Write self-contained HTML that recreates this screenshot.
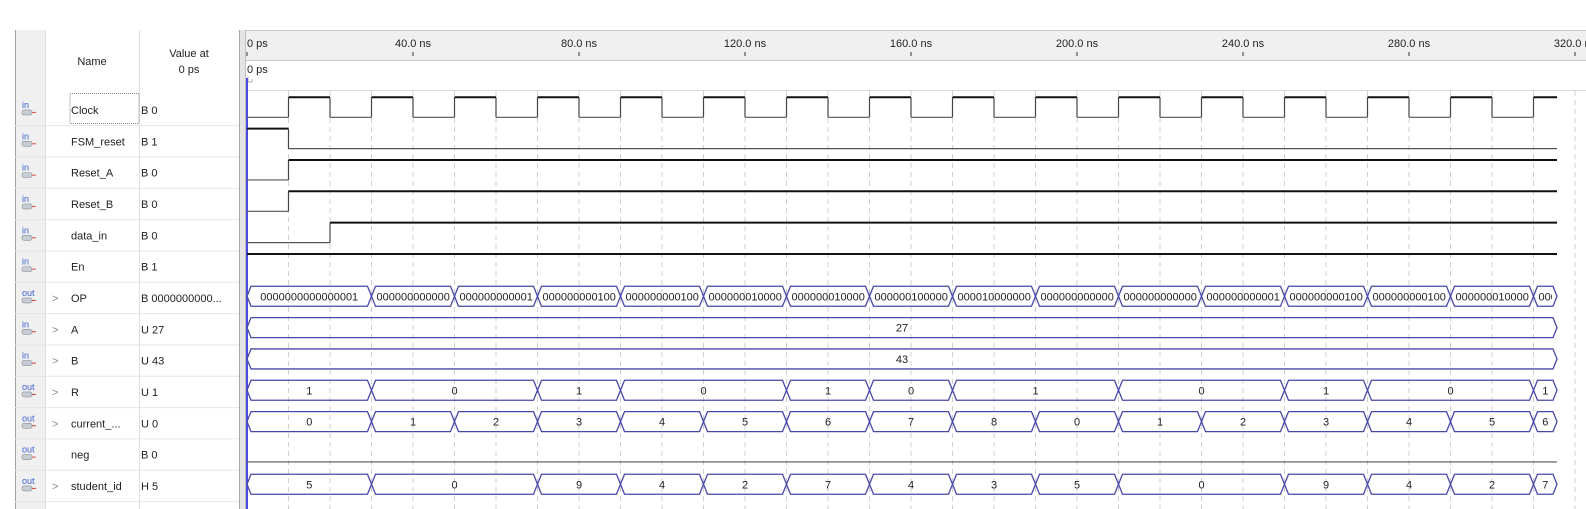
<!DOCTYPE html>
<html><head><meta charset="utf-8"><style>
html,body{margin:0;padding:0;background:#fff;width:1586px;height:509px;overflow:hidden}
svg{display:block;font-family:"Liberation Sans","DejaVu Sans",sans-serif}
</style></head><body>
<svg id="wave" width="1586" height="509" viewBox="0 0 1586 509" xmlns="http://www.w3.org/2000/svg">
<g id="panel"></g>
<g id="ruler"></g>
<g id="grid"></g>
<g id="traces"></g>
</svg>
<script>
// ---- data ----
const signalNames = ["Clock","FSM_reset","Reset_A","Reset_B","data_in","En","OP","A","B","R","current_...","neg","student_id"];
const signalDirs = ["in","in","in","in","in","in","out","in","in","out","out","out","out"];
const signalIsBus = [false,false,false,false,false,false,true,true,true,true,true,false,true];
const valuesAt0 = ["B 0","B 1","B 0","B 0","B 0","B 1","B 0000000000...","U 27","U 43","U 1","U 0","B 0","H 5"];
const tickTimesNs = [0,40,80,120,160,200,240,280,320];
const tickLabels = ["0 ps","40.0 ns","80.0 ns","120.0 ns","160.0 ns","200.0 ns","240.0 ns","280.0 ns","320.0 ns"];
const endTimeNs = 315.6;
// scalar signals: [time, level] change lists
const clockEdges = [[0,0],[10,1],[20,0],[30,1],[40,0],[50,1],[60,0],[70,1],[80,0],[90,1],[100,0],[110,1],[120,0],[130,1],[140,0],[150,1],[160,0],[170,1],[180,0],[190,1],[200,0],[210,1],[220,0],[230,1],[240,0],[250,1],[260,0],[270,1],[280,0],[290,1],[300,0],[310,1]];
const fsmResetEdges = [[0,1],[10,0]];
const resetAEdges = [[0,0],[10,1]];
const resetBEdges = [[0,0],[10,1]];
const dataInEdges = [[0,0],[20,1]];
const enEdges = [[0,1]];
const negEdges = [[0,0]];
// bus signals: change times and values
const busTimes = [0,30,50,70,90,110,130,150,170,190,210,230,250,270,290,310];
const opValues = ["0000000000000001","00000000000010","00000000000100","00000000010000","000000000100000","0000000100000000","00000001000000000","00000010000000000","0000100000000000","00000000000000","00000000000010","00000000000100","00000000010000","000000000100000","0000000100000000","00010000000"];
const currentValues = ["0","1","2","3","4","5","6","7","8","0","1","2","3","4","5","6"];
const rTimes = [0,30,70,90,130,150,170,210,250,270,310];
const rValues = ["1","0","1","0","1","0","1","0","1","0","1"];
const sidValues = ["5","0","9","4","2","7","4","3","5","0","9","4","2","7"];
const sidTimes = [0,30,70,90,110,130,150,170,190,210,250,270,290,310];
const aTimes = [0]; const aValues = ["27"];
const bTimes = [0]; const bValues = ["43"];

// ---- axis ----
const X0 = 247, PXNS = 4.15, XEND = 1557;
const x = t => X0 + t * PXNS;
const ROW0 = 94.3, ROWH = 31.33;
const rowTop = i => ROW0 + i * ROWH;
const NS = "http://www.w3.org/2000/svg";
function mk(tag, attrs, parent, txt){const e=document.createElementNS(NS,tag);for(const k in attrs)e.setAttribute(k,attrs[k]);if(txt!==undefined)e.textContent=txt;parent.appendChild(e);return e;}

const panel = document.getElementById('panel');
// panel backgrounds & lines
mk('rect',{x:15,y:30,width:30,height:479,fill:'#f0f0f0'},panel);
mk('rect',{x:239,y:30,width:7,height:479,fill:'#e4e4e4'},panel);
mk('line',{x1:15.5,y1:30,x2:15.5,y2:509,stroke:'#a0a0a0'},panel);
mk('line',{x1:45.5,y1:30,x2:45.5,y2:509,stroke:'#e0e0e0'},panel);
mk('line',{x1:139.5,y1:30,x2:139.5,y2:509,stroke:'#e0e0e0'},panel);
mk('line',{x1:239.5,y1:30,x2:239.5,y2:509,stroke:'#a8a8a8'},panel);
mk('line',{x1:245.5,y1:30,x2:245.5,y2:509,stroke:'#c0c0c0'},panel);
let h1 = mk('text',{x:92,y:65,'font-size':11,fill:'#222','text-anchor':'middle'},panel,'Name');


let h2 = mk('text',{x:189,y:57,'font-size':11,fill:'#222','text-anchor':'middle'},panel,'Value at');


mk('text',{x:189,y:73,'font-size':11,fill:'#222','text-anchor':'middle'},panel,'0 ps');
// focus box on Clock
mk('rect',{x:70,y:93.5,width:69,height:30,fill:'none',stroke:'#888','stroke-dasharray':'1,1'},panel);

signalNames.forEach((n,i)=>{
  const top=rowTop(i), cy=top+ROWH/2;
  const g=mk('g',{},panel);
  
  
  mk('line',{x1:15,y1:top+ROWH,x2:239,y2:top+ROWH,stroke:'#e6e6e6'},g);
  // icon
  const ic=mk('g',{},g);
  
  
  mk('text',{x:22,y:cy-2,'font-size':9,fill:'#3a5ed0'},ic,signalDirs[i]);
  mk('rect',{x:22,y:cy,width:10,height:5,rx:2,fill:'#c8ccd4',stroke:'#8a8e96','stroke-width':0.6},ic);
  mk('line',{x1:32,y1:cy+2.5,x2:36,y2:cy+2.5,stroke:signalIsBus[i]?'#d04040':'#e05050','stroke-width':1},ic);
  if(signalIsBus[i]){
    const ex=mk('text',{x:52,y:cy+4,'font-size':11,fill:'#888'},g,'>');
    
    
  }
  mk('text',{x:signalIsBus[i]?71:71,y:cy+4,'font-size':11,fill:'#222'},g,n);
  mk('text',{x:141,y:cy+4,'font-size':11,fill:'#222'},g,valuesAt0[i]);
});

// ruler
const ruler=document.getElementById('ruler');
mk('rect',{x:246,y:30,width:1340,height:30,fill:'#f0f0f0'},ruler);
mk('line',{x1:246,y1:30.5,x2:1586,y2:30.5,stroke:'#c8c8c8'},ruler);
mk('line',{x1:246,y1:60.5,x2:1586,y2:60.5,stroke:'#c8c8c8'},ruler);
mk('line',{x1:246,y1:90.5,x2:1586,y2:90.5,stroke:'#dcdcdc'},ruler);
tickTimesNs.forEach((t,i)=>{
  const tx=x(t);
  mk('line',{x1:tx,y1:52,x2:tx,y2:56,stroke:'#333'},ruler);
  const lb=mk('text',{x:i===0?tx:tx,y:47,'font-size':11,fill:'#222','text-anchor':i===0?'start':'middle'},ruler,tickLabels[i]);
  
  
});
const cur=mk('text',{x:247,y:73,'font-size':11,fill:'#222'},ruler,'0 ps');


mk('path',{d:'M248 76 V82 H252 V79',fill:'none',stroke:'#999','stroke-width':0.8},ruler);

// grid
const grid=document.getElementById('grid');
for(let t=10;x(t)<1586;t+=10){
  mk('line',{x1:x(t),y1:91,x2:x(t),y2:509,stroke:'#cfcfcf','stroke-dasharray':'5,4'},grid);
}
mk('line',{x1:247,y1:78,x2:247,y2:509,stroke:'#4a4ae0','stroke-width':2},grid);

// traces
const traces=document.getElementById('traces');
function scalar(i,edges,name){
  const top=rowTop(i), hi=top+3, lo=top+23;
  const g=mk('g',{},traces);
  
  
  for(let k=0;k<edges.length;k++){
    const t0=edges[k][0], t1=k+1<edges.length?edges[k+1][0]:null;
    const xa=x(t0), xb=t1===null?XEND:x(t1);
    const lv=edges[k][1];
    mk('line',{x1:xa,y1:lv?hi:lo,x2:xb,y2:lv?hi:lo,stroke:lv?'#111':'#555','stroke-width':lv?2:1.2},g);
    if(t1!==null) mk('line',{x1:xb,y1:hi,x2:xb,y2:lo,stroke:'#444','stroke-width':1.2},g);
  }
}
let clipId=0;
function bus(i,times,vals,name,leftAlignOverflow){
  const top=rowTop(i), yt=top+4, yb=top+24, ym=top+14, s=4;
  const g=mk('g',{},traces);
  
  
  for(let k=0;k<times.length;k++){
    const xa=x(times[k]), xb=k+1<times.length?x(times[k+1]):XEND;
    const d=`M${xa} ${ym} L${xa+s} ${yt} L${xb-s} ${yt} L${xb} ${ym} L${xb-s} ${yb} L${xa+s} ${yb} Z`;
    mk('path',{d,fill:'none',stroke:'#4848a8','stroke-width':1.3},g);
    const id='c'+(clipId++);
    const cp=mk('clipPath',{id},g);
    mk('rect',{x:xa+s,y:yt,width:Math.max(0,xb-xa-2*s-1),height:yb-yt},cp);
    const v=vals[k];
    const w=v.length*6.2;
    const fits=w<xb-xa-2*s;
    const tx=fits?(xa+xb)/2:xa+s+1;
    mk('text',{x:tx,y:ym+4,'font-size':11,fill:'#222','text-anchor':fits?'middle':'start','clip-path':`url(#${id})`},g,v);
  }
}
scalar(0,clockEdges,'clock-trace');
scalar(1,fsmResetEdges,'fsm-reset-trace');
scalar(2,resetAEdges,'reset-a-trace');
scalar(3,resetBEdges,'reset-b-trace');
scalar(4,dataInEdges,'data-in-trace');
scalar(5,enEdges,'en-trace');
bus(6,busTimes,opValues,'op-trace');
bus(7,aTimes,aValues,'a-trace');
bus(8,bTimes,bValues,'b-trace');
bus(9,rTimes,rValues,'r-trace');
bus(10,busTimes,currentValues,'current-state-trace');
scalar(11,negEdges,'neg-trace');
bus(12,sidTimes,sidValues,'student-id-trace');
</script>
</body></html>
